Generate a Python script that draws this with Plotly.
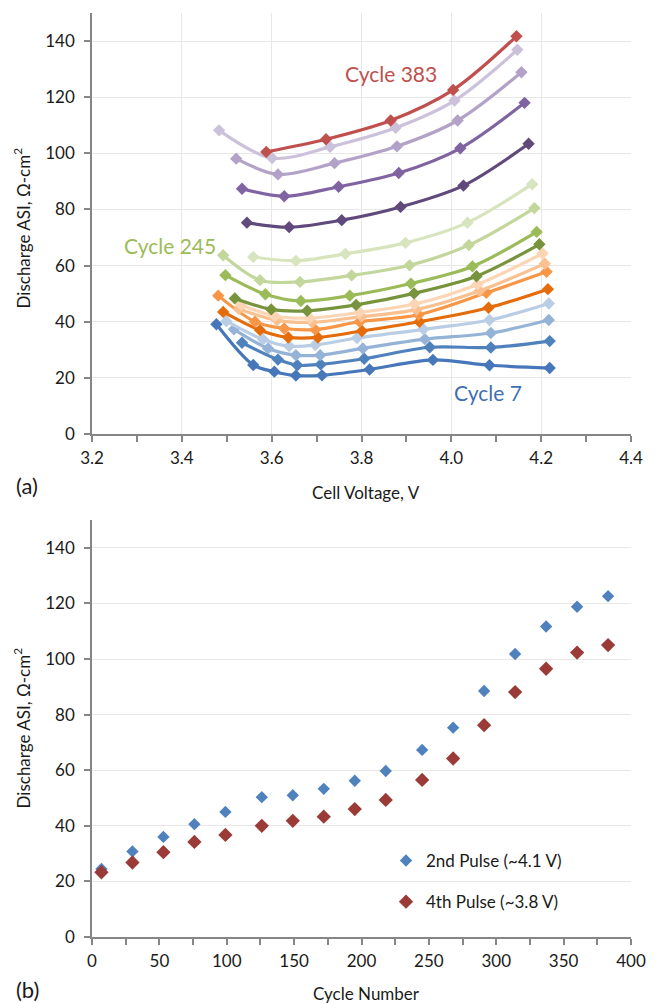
import plotly.graph_objects as go

W, H = 658, 1003
ML, MR, MT, MB = 92, 16, 13, 66
PW = W - ML - MR
PH = H - MT - MB


def px_x(p):
    return (p - ML) / PW


def px_y(p):
    return (H - MB - p) / PH


FONT = "Lato, 'Open Sans', sans-serif"

# ---------------- (a) discharge ASI vs cell voltage ----------------
v_c7 = [3.477, 3.559, 3.606, 3.654, 3.712, 3.818, 3.959, 4.085, 4.219]
asi_c7 = [39.1, 24.6, 22.2, 20.8, 20.9, 23.0, 26.4, 24.5, 23.5]
v_c30 = [3.534, 3.614, 3.657, 3.709, 3.806, 3.952, 4.088, 4.219]
asi_c30 = [32.5, 26.5, 24.5, 24.8, 26.8, 30.9, 30.8, 33.1]
v_c53 = [3.516, 3.592, 3.654, 3.708, 3.803, 3.941, 4.088, 4.217]
asi_c53 = [37.3, 30.5, 28.1, 28.1, 30.5, 33.8, 36.0, 40.6]
v_c76 = [3.499, 3.581, 3.639, 3.697, 3.790, 3.938, 4.085, 4.217]
asi_c76 = [40.2, 33.7, 31.3, 31.7, 34.2, 37.3, 40.6, 46.5]
v_c99 = [3.492, 3.574, 3.637, 3.703, 3.801, 3.929, 4.083, 4.215]
asi_c99 = [43.5, 37.0, 34.4, 34.4, 36.7, 40.0, 45.0, 51.6]
v_c126 = [3.481, 3.563, 3.628, 3.697, 3.796, 3.927, 4.078, 4.212]
asi_c126 = [49.3, 40.0, 37.6, 37.2, 40.0, 42.5, 50.3, 57.8]
v_c149 = [3.527, 3.612, 3.690, 3.800, 3.922, 4.063, 4.208]
asi_c149 = [44.5, 40.5, 39.8, 41.8, 44.3, 51.0, 60.7]
v_c172 = [3.532, 3.607, 3.685, 3.795, 3.918, 4.058, 4.203]
asi_c172 = [46.0, 42.0, 41.3, 43.3, 46.3, 53.3, 64.3]
v_c195 = [3.518, 3.599, 3.679, 3.788, 3.917, 4.056, 4.196]
asi_c195 = [48.3, 44.4, 43.9, 46.0, 50.1, 56.2, 67.6]
v_c218 = [3.497, 3.586, 3.665, 3.774, 3.910, 4.047, 4.190]
asi_c218 = [56.6, 49.8, 47.4, 49.3, 53.6, 59.7, 72.0]
v_c245 = [3.492, 3.574, 3.663, 3.778, 3.907, 4.039, 4.185]
asi_c245 = [63.7, 54.8, 54.2, 56.5, 60.1, 67.3, 80.5]
v_c268 = [3.559, 3.654, 3.764, 3.898, 4.036, 4.180]
asi_c268 = [63.1, 61.7, 64.2, 68.1, 75.3, 89.0]
v_c291 = [3.545, 3.639, 3.756, 3.887, 4.027, 4.172]
asi_c291 = [75.3, 73.7, 76.2, 80.9, 88.5, 103.4]
v_c314 = [3.534, 3.628, 3.749, 3.883, 4.020, 4.163]
asi_c314 = [87.4, 84.7, 88.1, 93.0, 101.8, 118.0]
v_c337 = [3.521, 3.614, 3.740, 3.879, 4.014, 4.156]
asi_c337 = [98.1, 92.5, 96.5, 102.5, 111.7, 128.9]
v_c360 = [3.483, 3.601, 3.730, 3.876, 4.007, 4.147]
asi_c360 = [108.2, 98.3, 102.3, 109.1, 118.8, 136.9]
v_c383 = [3.588, 3.721, 3.865, 4.004, 4.145]
asi_c383 = [100.5, 105.0, 111.7, 122.6, 141.7]

series_a = [
    (v_c7, asi_c7, "#4677BA"),
    (v_c30, asi_c30, "#4F81BD"),
    (v_c53, asi_c53, "#95B3D7"),
    (v_c76, asi_c76, "#B9CDE5"),
    (v_c99, asi_c99, "#E46C0A"),
    (v_c126, asi_c126, "#F79646"),
    (v_c149, asi_c149, "#FAC08F"),
    (v_c172, asi_c172, "#FCD5B5"),
    (v_c195, asi_c195, "#77933C"),
    (v_c218, asi_c218, "#9BBB59"),
    (v_c245, asi_c245, "#C3D69B"),
    (v_c268, asi_c268, "#D7E4BD"),
    (v_c291, asi_c291, "#604A7B"),
    (v_c314, asi_c314, "#8064A2"),
    (v_c337, asi_c337, "#B3A2C7"),
    (v_c360, asi_c360, "#CCC1DA"),
    (v_c383, asi_c383, "#C0504D"),
]

# ---------------- (b) ASI vs cycle number ----------------
cycle_number = [7, 30, 53, 76, 99, 126, 149, 172, 195, 218, 245, 268, 291, 314, 337, 360, 383]
pulse2_asi = [24.5, 30.8, 36.0, 40.6, 45.0, 50.3, 51.0, 53.3, 56.2, 59.7, 67.3, 75.3, 88.5, 101.8, 111.7, 118.8, 122.6]
pulse4_asi = [23.3, 26.8, 30.5, 34.2, 36.7, 40.0, 41.8, 43.3, 46.0, 49.3, 56.5, 64.2, 76.2, 88.1, 96.5, 102.3, 105.0]

fig = go.Figure()

for v, a, c in series_a:
    fig.add_trace(go.Scatter(
        x=v, y=a, mode="lines+markers", xaxis="x", yaxis="y",
        line=dict(color=c, width=3.2, shape="spline", smoothing=0.9),
        marker=dict(symbol="diamond", size=9.5, color=c),
        showlegend=False, hoverinfo="x+y",
    ))

fig.add_trace(go.Scatter(
    x=cycle_number, y=pulse2_asi, mode="markers", xaxis="x2", yaxis="y2",
    name="2nd Pulse (~4.1 V)", legendgroup="p2",
    marker=dict(symbol="diamond", size=9.5, color="#4F81BD"),
))
fig.add_trace(go.Scatter(
    x=cycle_number, y=pulse4_asi, mode="markers", xaxis="x2", yaxis="y2",
    name="4th Pulse (~3.8 V)", legendgroup="p4",
    marker=dict(symbol="diamond", size=11, color="#9B3B38"),
))

axis_common = dict(
    showline=True, linecolor="#868686", linewidth=1.5,
    ticks="outside", tickcolor="#868686", ticklen=6, tickwidth=1.5,
    gridcolor="#E8E8E8", gridwidth=1, zeroline=False,
    tickfont=dict(family=FONT, size=17, color="#1a1a1a"),
)

top_dom = [px_y(434), 1.0]
bot_dom = [0.0, px_y(520)]

fig.update_layout(
    width=W, height=H,
    margin=dict(l=ML, r=MR, t=MT, b=MB),
    paper_bgcolor="white", plot_bgcolor="white",
    font=dict(family=FONT, size=17, color="#1a1a1a"),
    xaxis=dict(axis_common, domain=[0, 1], anchor="y", range=[3.2, 4.4],
               dtick=0.2, tick0=3.2, tickformat=".1f", showgrid=True,
               ticklabelstandoff=2,
               minor=dict(ticks="outside", dtick=0.1, ticklen=6, tickcolor="#868686",
                          tickwidth=1.5, showgrid=False)),
    yaxis=dict(axis_common, domain=top_dom, anchor="x", range=[0, 150],
               dtick=20, showgrid=True, ticklabelstandoff=6),
    xaxis2=dict(axis_common, domain=[0, 1], anchor="y2", range=[0, 400],
                dtick=50, showgrid=False, ticklabelstandoff=2,
                minor=dict(ticks="outside", dtick=25, ticklen=6, tickcolor="#868686",
                           tickwidth=1.5, showgrid=False)),
    yaxis2=dict(axis_common, domain=bot_dom, anchor="x2", range=[0, 150],
                dtick=20, showgrid=True, ticklabelstandoff=6),
    legend=dict(x=px_x(392), y=px_y(843), xanchor="left", yanchor="top",
                bgcolor="rgba(0,0,0,0)", font=dict(family=FONT, size=17),
                itemwidth=30, traceorder="grouped", tracegroupgap=16),
    showlegend=True,
)


def label(text, xp, yp, size=17, angle=0):
    return dict(text=text, x=px_x(xp), y=px_y(yp), xref="paper", yref="paper",
                xanchor="center", yanchor="middle", showarrow=False,
                textangle=angle, font=dict(family=FONT, size=size, color="#1a1a1a"))


ann = [
    label("Discharge ASI, Ω-cm<sup>2</sup>", 20, 228, angle=-90),
    label("Discharge ASI, Ω-cm<sup>2</sup>", 20, 728, angle=-90),
    label("Cell Voltage, V", 372, 493),
    label("Cycle Number", 372, 993),
    label("(a)", 26, 486, size=22),
    label("(b)", 26, 990, size=22),
    dict(text="Cycle 383", x=3.865, y=128.5, xref="x", yref="y", xanchor="center",
         yanchor="middle", showarrow=False,
         font=dict(family=FONT, size=21, color="#C0504D")),
    dict(text="Cycle 245", x=3.373, y=67.3, xref="x", yref="y", xanchor="center",
         yanchor="middle", showarrow=False,
         font=dict(family=FONT, size=21, color="#9BBB59")),
    dict(text="Cycle 7", x=4.082, y=14.9, xref="x", yref="y", xanchor="center",
         yanchor="middle", showarrow=False,
         font=dict(family=FONT, size=21, color="#3F6FB0")),
]
fig.update_layout(annotations=ann)

fig.write_html("out.html")
